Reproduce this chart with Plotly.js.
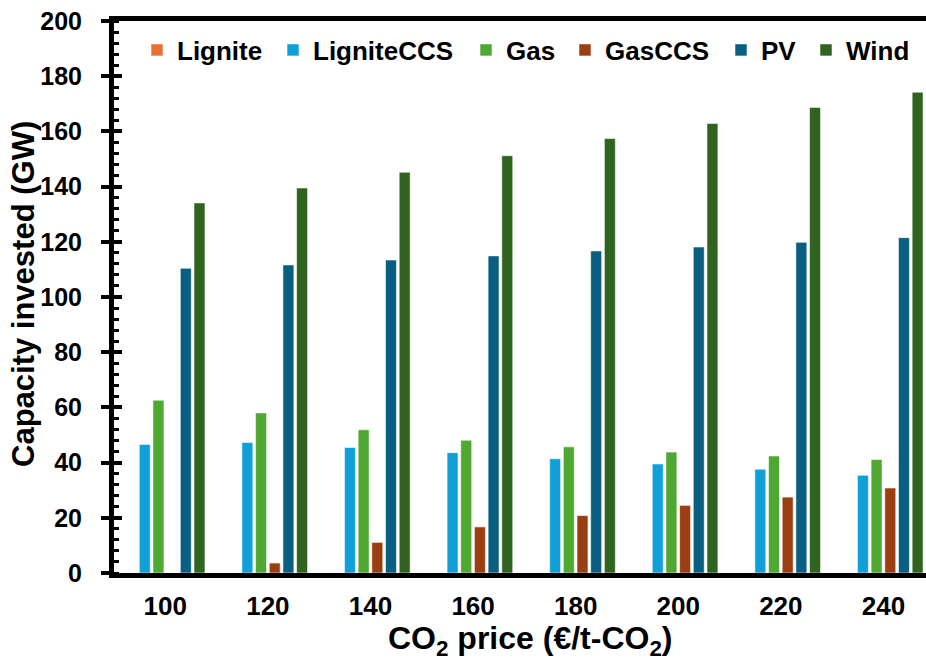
<!DOCTYPE html>
<html>
<head>
<meta charset="utf-8">
<script src="https://cdn.plot.ly/plotly-3.0.1.min.js"></script>
<style>html,body{margin:0;padding:0;background:#fff;}#chart{width:926px;height:660px;}</style>
</head>
<body>
<div id="chart"></div>
<script>
const categories = ["100", "120", "140", "160", "180", "200", "220", "240"];
const lignite    = [0, 0, 0, 0, 0, 0, 0, 0];
const ligniteCCS = [46.6, 47.3, 45.5, 43.6, 41.4, 39.5, 37.6, 35.4];
const gas        = [62.6, 58.0, 51.9, 48.1, 45.7, 43.8, 42.4, 41.1];
const gasCCS     = [0, 3.6, 11.1, 16.7, 20.8, 24.5, 27.5, 30.8];
const pv         = [110.4, 111.6, 113.4, 114.9, 116.7, 118.1, 119.8, 121.5];
const wind       = [134.1, 139.5, 145.2, 151.2, 157.4, 162.9, 168.7, 174.2];

const seriesNames = ["Lignite", "LigniteCCS", "Gas", "GasCCS", "PV", "Wind"];
const seriesValues = [lignite, ligniteCCS, gas, gasCCS, pv, wind];
const seriesColors = ["#E97132", "#109FD9", "#4FA831", "#9B3E12", "#0A5E80", "#306320"];

const FONT = "Liberation Sans, Arial, sans-serif";
const W = 926, H = 660, ML = 114, MR = 0, MT = 21, MB = 87;
const PW = W - ML - MR, PH = H - MT - MB;

// legend entry placement (symbol centre in pixels), one legend box per series
const legendSymbolX = [158, 294, 487, 586, 742, 827];

const legendKey = i => (i === 0 ? "legend" : "legend" + (i + 1));

const traces = seriesNames.map((name, i) => ({
  type: "bar",
  name: name,
  x: categories,
  y: seriesValues[i],
  legend: legendKey(i),
  marker: { color: seriesColors[i], line: { color: "rgba(255,255,255,0.55)", width: 1 } },
  hoverinfo: "x+y+name"
}));

// invisible helper trace so the overlay axis (cross ticks) is drawn
traces.push({ type: "scatter", x: [categories[0]], y: [0], yaxis: "y2", mode: "markers",
  marker: { opacity: 0 }, showlegend: false, hoverinfo: "skip" });

const layout = {
  width: W, height: H,
  margin: { l: ML, r: MR, t: MT, b: MB },
  paper_bgcolor: "#fff", plot_bgcolor: "#fff",
  font: { family: FONT, color: "#000" },
  barmode: "group",
  bargap: 0.2,
  bargroupgap: 0.2,
  showlegend: true,
  xaxis: {
    type: "category",
    range: [-0.5, 7.415],
    showline: true, linecolor: "#000", linewidth: 5, mirror: true,
    ticks: "", showgrid: false, zeroline: false,
    ticklabelstandoff: 6,
    tickfont: { family: FONT, size: 26, weight: "bold", color: "#000" }
  },
  yaxis: {
    range: [0, 200], dtick: 20, tick0: 0,
    showline: true, linecolor: "#000", linewidth: 5,
    ticks: "outside", ticklen: 8, tickwidth: 4, tickcolor: "#000",
    minor: { dtick: 4, ticks: "inside", ticklen: 5, tickwidth: 3, tickcolor: "#000", showgrid: false },
    showgrid: false, zeroline: false,
    ticklabelstandoff: 14,
    tickfont: { family: FONT, size: 25, weight: "bold", color: "#000" }
  },
  yaxis2: {
    overlaying: "y", side: "left", range: [0, 200], dtick: 20, tick0: 0,
    ticks: "inside", ticklen: 8, tickwidth: 4, tickcolor: "#000",
    showticklabels: false, showgrid: false, zeroline: false, showline: false
  },
  annotations: [
    { text: "CO<sub>2</sub> price (€/t-CO<sub>2</sub>)", xref: "paper", yref: "paper",
      x: (530 - ML) / PW, y: (MT + PH - 640) / PH, xanchor: "center", yanchor: "middle",
      showarrow: false, font: { family: FONT, size: 32, weight: "bold", color: "#000" } },
    { text: "Capacity invested (GW)", xref: "paper", yref: "paper", textangle: -90,
      x: (23 - ML) / PW, y: (MT + PH - 294) / PH, xanchor: "center", yanchor: "middle",
      showarrow: false, font: { family: FONT, size: 31, weight: "bold", color: "#000" } }
  ]
};

seriesNames.forEach((name, i) => {
  layout[legendKey(i)] = {
    orientation: "h", x: (legendSymbolX[i] - 21 - ML) / PW, y: 0.99,
    xanchor: "left", yanchor: "top", itemwidth: 30,
    font: { family: FONT, size: 26, weight: "bold", color: "#000" },
    bgcolor: "rgba(0,0,0,0)", itemclick: false
  };
});

Plotly.newPlot("chart", traces, layout, { staticPlot: true, displayModeBar: false });
</script>
</body>
</html>
